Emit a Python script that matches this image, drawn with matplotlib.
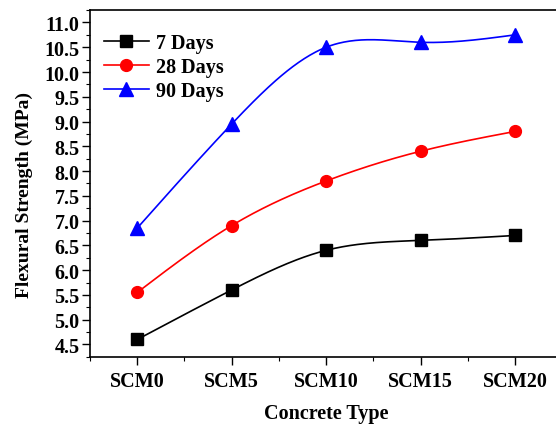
import numpy as np
import matplotlib
matplotlib.use("Agg")
import matplotlib.pyplot as plt
from matplotlib.ticker import MultipleLocator

categories = ["SCM0", "SCM5", "SCM10", "SCM15", "SCM20"]
days_7 = [4.6, 5.6, 6.4, 6.6, 6.7]
days_28 = [5.55, 6.9, 7.8, 8.4, 8.8]
days_90 = [6.85, 8.95, 10.5, 10.6, 10.75]


def natural_spline(x, y, n=200):
    # natural cubic spline, like the smoothed lines of the original
    x = np.asarray(x, float)
    y = np.asarray(y, float)
    k = len(x)
    h = np.diff(x)
    a = np.zeros((k, k))
    b = np.zeros(k)
    a[0, 0] = a[-1, -1] = 1
    for i in range(1, k - 1):
        a[i, i - 1] = h[i - 1]
        a[i, i] = 2 * (h[i - 1] + h[i])
        a[i, i + 1] = h[i]
        b[i] = 6 * ((y[i + 1] - y[i]) / h[i] - (y[i] - y[i - 1]) / h[i - 1])
    m = np.linalg.solve(a, b)
    xs = np.linspace(x[0], x[-1], n)
    idx = np.clip(np.searchsorted(x, xs) - 1, 0, k - 2)
    x0, x1 = x[idx], x[idx + 1]
    hh = x1 - x0
    t0, t1 = x1 - xs, xs - x0
    ys = (m[idx] * t0**3 + m[idx + 1] * t1**3) / (6 * hh) \
        + (y[idx] / hh - m[idx] * hh / 6) * t0 \
        + (y[idx + 1] / hh - m[idx + 1] * hh / 6) * t1
    return xs, ys


plt.rcParams["font.family"] = ["Liberation Serif", "DejaVu Serif"]
plt.rcParams["font.weight"] = "bold"

fig = plt.figure(figsize=(5.56, 4.27), dpi=100)
ax = fig.add_axes([0.162, 0.162, 0.849, 0.812])

x = np.arange(len(categories))
series = [
    (days_7, "black", "s", "7 Days", 8.5),
    (days_28, "red", "o", "28 Days", 8.5),
    (days_90, "blue", "^", "90 Days", 9.5),
]
for vals, col, mk, lab, ms in series:
    xs, ys = natural_spline(x, vals)
    ax.plot(xs, ys, color=col, lw=1.2)
    ax.plot(x, vals, color=col, marker=mk, ms=ms, ls="none")
    ax.plot([], [], color=col, marker=mk, ms=ms, lw=1.2, label=lab)

ax.set_xlim(-0.5, 4.5)
ax.set_ylim(4.25, 11.25)
ax.set_xticks(x)
ax.set_xticklabels(categories)
ax.xaxis.set_minor_locator(MultipleLocator(0.5))
ax.yaxis.set_major_locator(MultipleLocator(0.5))
ax.yaxis.set_minor_locator(MultipleLocator(0.25))
ax.yaxis.set_major_formatter(matplotlib.ticker.FormatStrFormatter("%.1f"))
ax.tick_params(which="major", length=5.5, width=1, labelsize=14.5, direction="out")
ax.tick_params(which="minor", length=3, width=0.8, direction="out")
ax.tick_params(axis="x", pad=5)
ax.tick_params(axis="y", pad=2)
ax.spines["right"].set_visible(False)
for s in ax.spines.values():
    s.set_linewidth(1.2)

ax.set_xlabel("Concrete Type", fontsize=14.5, fontweight="bold", labelpad=8)
ax.set_ylabel("Flexural Strength (MPa)", fontsize=14, fontweight="bold")
ax.yaxis.set_label_coords(-0.121, 0.47)

ax.legend(loc="upper left", frameon=False, fontsize=14.5, handlelength=2.2,
          handletextpad=0.35, labelspacing=0.2, borderaxespad=0.4,
          borderpad=0.4, bbox_to_anchor=(-0.004, 0.98))

fig.savefig("out.png", dpi=100)
